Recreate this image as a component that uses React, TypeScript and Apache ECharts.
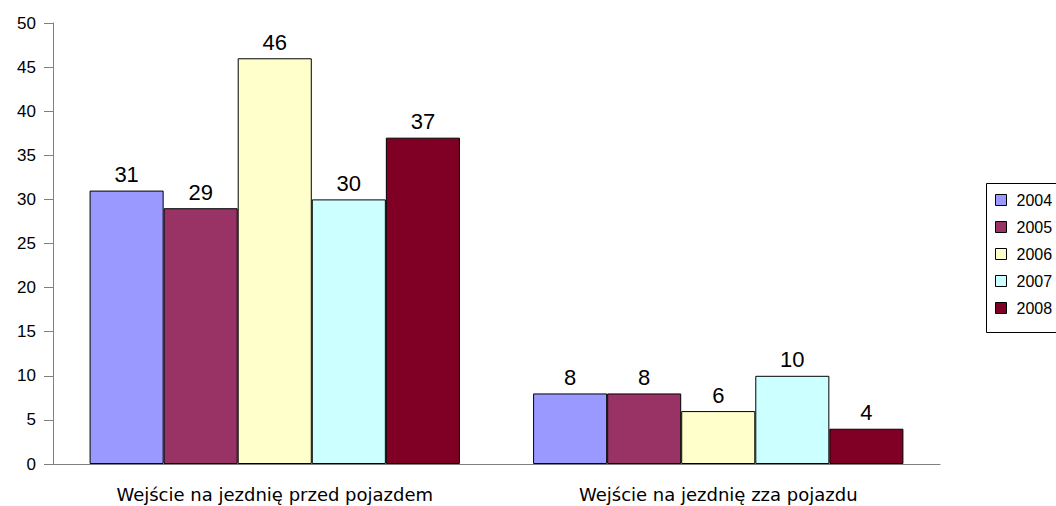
import React, { useEffect, useRef } from "react";
import * as echarts from "echarts";

const categories = ["Wejście na jezdnię przed pojazdem", "Wejście na jezdnię zza pojazdu"];
const years = ["2004", "2005", "2006", "2007", "2008"];
const values2004 = [31, 8];
const values2005 = [29, 8];
const values2006 = [46, 6];
const values2007 = [30, 10];
const values2008 = [37, 4];
const seriesValues = [values2004, values2005, values2006, values2007, values2008];
const colors = ["#9999FF", "#993366", "#FFFFCC", "#CCFFFF", "#7F0024"];
const yTicks = { min: 0, max: 50, interval: 5 };

const FONT = "'Liberation Sans', Arial, sans-serif";

export default function App() {
  const ref = useRef<HTMLDivElement>(null);
  useEffect(() => {
    document.body.style.margin = "0";
    const chart = echarts.init(ref.current!, null, { renderer: "svg" });
    chart.setOption({
      animation: false,
      backgroundColor: "#ffffff",
      grid: { left: 53, right: 116, top: 23, bottom: 42, containLabel: false },
      xAxis: {
        type: "category",
        data: categories,
        axisLine: { lineStyle: { color: "#808080", width: 1 } },
        axisTick: { alignWithLabel: true, length: 9, lineStyle: { color: "#808080" } },
        axisLabel: { fontFamily: "'DejaVu Sans', sans-serif", fontSize: 18, color: "#000", margin: 21 },
      },
      yAxis: {
        type: "value",
        min: yTicks.min,
        max: yTicks.max,
        interval: yTicks.interval,
        splitLine: { show: false },
        axisLine: { show: true, lineStyle: { color: "#808080", width: 1 } },
        axisTick: { show: true, length: 9, lineStyle: { color: "#808080" } },
        axisLabel: { fontFamily: FONT, fontSize: 17, color: "#000", margin: 17 },
      },
      legend: {
        orient: "vertical",
        left: 995,
        top: 192,
        padding: 0,
        itemWidth: 11,
        itemHeight: 11,
        itemGap: 11,
        icon: "rect",
        data: years,
        itemStyle: { borderColor: "#000", borderWidth: 1 },
        textStyle: { fontFamily: FONT, fontSize: 16, lineHeight: 16, color: "#000", padding: [0, 0, 0, 5] },
      },
      graphic: [
        {
          type: "rect",
          shape: { x: 986.5, y: 183.5, width: 100, height: 149 },
          style: { fill: "none", stroke: "#000", lineWidth: 1 },
          silent: true,
          z: -1,
        },
      ],
      series: years.map((y, i) => ({
        name: y,
        type: "bar",
        data: seriesValues[i],
        barGap: "0%",
        barCategoryGap: "16.5%",
        itemStyle: { color: colors[i], borderColor: "#000", borderWidth: 1 },
        label: {
          show: true,
          position: "top",
          distance: 5,
          fontFamily: FONT,
          fontSize: 22,
          color: "#000",
        },
      })),
    });
    return () => chart.dispose();
  }, []);
  return <div ref={ref} style={{ width: 1056, height: 506 }} />;
}
